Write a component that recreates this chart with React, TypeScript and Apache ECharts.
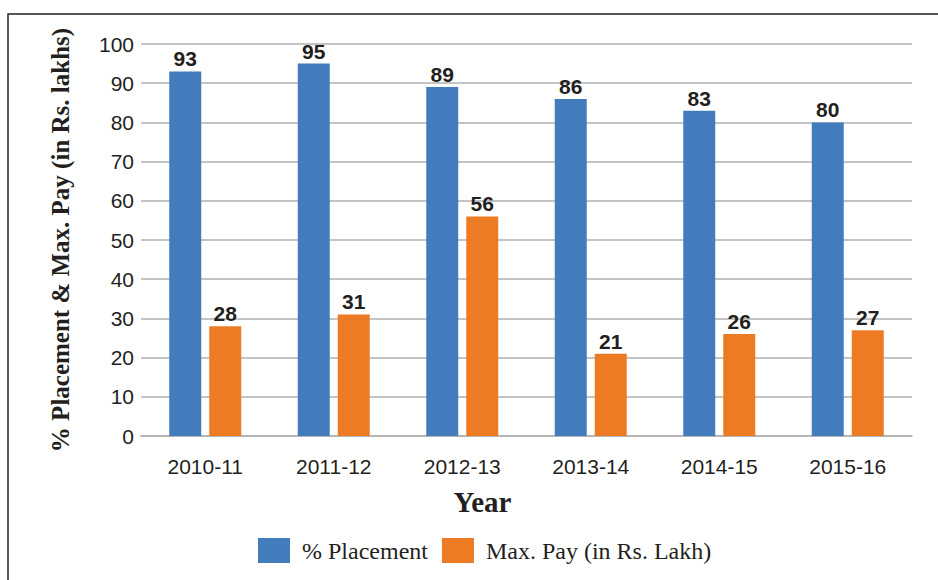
import React, { useEffect, useRef } from "react";
import * as echarts from "echarts";

const categories = ["2010-11", "2011-12", "2012-13", "2013-14", "2014-15", "2015-16"];
const placement = [93, 95, 89, 86, 83, 80];
const maxPay = [28, 31, 56, 21, 26, 27];
const yTicks = { min: 0, max: 100, interval: 10 };

export default function App() {
  const ref = useRef<HTMLDivElement>(null);
  useEffect(() => {
    document.body.style.margin = "0";
    const chart = echarts.init(ref.current!, null, { renderer: "svg" });
    const labelStyle = {
      show: true,
      position: "top" as const,
      distance: 2,
      fontFamily: "Liberation Sans, Arial, sans-serif",
      fontWeight: "bold" as const,
      fontSize: 21,
      color: "#231f20",
    };
    chart.setOption({
      animation: false,
      backgroundColor: "#ffffff",
      graphic: [
        {
          type: "rect",
          shape: { x: 8, y: 14, width: 1000, height: 1000 },
          style: { fill: "none", stroke: "#231f20", lineWidth: 1.5 },
          silent: true,
        },
      ],
      grid: { left: 141, right: 26, top: 44, bottom: 144 },
      legend: {
        left: 253,
        top: 533,
        itemWidth: 32,
        itemHeight: 25,
        itemGap: 14,
        icon: "rect",
        textStyle: {
          fontFamily: "Liberation Serif, Times New Roman, serif",
          fontSize: 24,
          color: "#231f20",
          padding: [0, 0, 0, 7],
        },
        data: ["% Placement", "Max. Pay (in Rs. Lakh)"],
      },
      xAxis: {
        type: "category",
        data: categories,
        name: "Year",
        nameLocation: "middle",
        nameGap: 51,
        nameTextStyle: {
          fontFamily: "Liberation Serif, Times New Roman, serif",
          fontWeight: "bold",
          fontSize: 29,
          color: "#231f20",
          padding: [0, 88, 0, 0],
        },
        axisLine: { show: true, lineStyle: { color: "#b0b0b0", width: 1.5 } },
        axisTick: { show: false },
        axisLabel: {
          fontFamily: "Liberation Sans, Arial, sans-serif",
          fontSize: 21,
          color: "#231f20",
          margin: 20,
        },
      },
      yAxis: {
        type: "value",
        min: yTicks.min,
        max: yTicks.max,
        interval: yTicks.interval,
        name: "% Placement & Max. Pay (in Rs. lakhs)",
        nameLocation: "middle",
        nameGap: 68,
        nameRotate: 90,
        nameTextStyle: {
          fontFamily: "Liberation Serif, Times New Roman, serif",
          fontWeight: "bold",
          fontSize: 25,
          color: "#231f20",
        },
        axisLine: { show: false },
        axisTick: { show: false },
        splitLine: { lineStyle: { color: "#b0b0b0", width: 1.5 } },
        axisLabel: {
          fontFamily: "Liberation Sans, Arial, sans-serif",
          fontSize: 21,
          color: "#231f20",
          margin: 7,
        },
      },
      series: [
        {
          name: "% Placement",
          type: "bar",
          data: placement,
          barWidth: 32,
          barGap: "25%",
          itemStyle: { color: "#437cbd" },
          label: labelStyle,
        },
        {
          name: "Max. Pay (in Rs. Lakh)",
          type: "bar",
          data: maxPay,
          barWidth: 32,
          itemStyle: { color: "#ed7b23" },
          label: labelStyle,
        },
      ],
    });
    return () => chart.dispose();
  }, []);
  return <div ref={ref} style={{ width: 938, height: 580 }} />;
}
